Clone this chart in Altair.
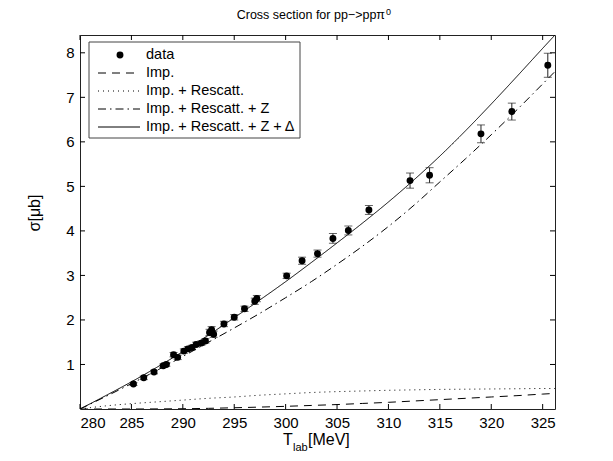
import altair as alt
import pandas as pd

# ---------------- data ----------------
T_DATA = [285.2, 286.2, 287.2, 288.1, 288.4, 289.1, 289.5, 290.1, 290.5, 290.9,
          291.3, 291.8, 292.2, 292.6, 292.8, 293.0, 294.0, 295.0, 296.0, 297.0,
          297.2, 300.1, 301.6, 303.1, 304.6, 306.1, 308.1, 312.1, 314.0, 319.0,
          322.0, 325.5]
SIGMA_DATA = [0.56, 0.70, 0.83, 0.97, 1.00, 1.22, 1.16, 1.30, 1.35, 1.38,
              1.45, 1.48, 1.53, 1.72, 1.78, 1.68, 1.91, 2.06, 2.25, 2.42,
              2.48, 2.99, 3.33, 3.49, 3.83, 4.01, 4.47, 5.13, 5.25, 6.18,
              6.68, 7.72]
SIGMA_ERR = [0.03, 0.04, 0.04, 0.04, 0.04, 0.05, 0.05, 0.05, 0.05, 0.05,
             0.05, 0.05, 0.05, 0.07, 0.07, 0.07, 0.06, 0.06, 0.06, 0.07,
             0.07, 0.06, 0.08, 0.08, 0.11, 0.10, 0.10, 0.17, 0.17, 0.20,
             0.19, 0.27]

T_CURVE = [280, 282.5, 285, 287.5, 290, 292.5, 295, 297.5, 300, 302.5,
           305, 307.5, 310, 312.5, 315, 317.5, 320, 322.5, 325, 326.2]
IMP = [0.0, 0.0, 0.0, 0.002, 0.006, 0.015, 0.028, 0.043, 0.06, 0.08,
       0.10, 0.125, 0.15, 0.18, 0.21, 0.24, 0.27, 0.30, 0.335, 0.35]
IMP_RESCATT = [0.0, 0.07, 0.12, 0.16, 0.20, 0.24, 0.27, 0.31, 0.34, 0.37,
               0.39, 0.405, 0.42, 0.43, 0.44, 0.445, 0.45, 0.455, 0.46, 0.46]
IMP_RESCATT_Z = [0.0, 0.28, 0.57, 0.87, 1.18, 1.50, 1.82, 2.15, 2.50, 2.86,
                 3.25, 3.66, 4.10, 4.58, 5.10, 5.62, 6.16, 6.72, 7.30, 7.58]
IMP_RESCATT_Z_DELTA = [0.0, 0.30, 0.61, 0.94, 1.29, 1.66, 2.05, 2.45, 2.86, 3.29,
                       3.73, 4.18, 4.65, 5.15, 5.68, 6.25, 6.85, 7.47, 8.10, 8.40]

SERIES_NAMES = ["Imp.", "Imp. + Rescatt.", "Imp. + Rescatt. + Z", "Imp. + Rescatt. + Z +\u2009Δ"]
LEGEND_LABELS = ["data"] + SERIES_NAMES

X_TICKS = [280, 285, 290, 295, 300, 305, 310, 315, 320, 325]
Y_TICKS = [1, 2, 3, 4, 5, 6, 7, 8]

X_DOMAIN = [280, 326.2]
Y_DOMAIN = [0, 8.4]

# ---------------- styles ----------------
W, H = 475, 374
FONT = "Liberation Sans"
DASH_LIST = [[8, 6], [1, 4], [8, 4, 1.5, 4], [1, 0]]
DASHES = dict(zip(SERIES_NAMES, DASH_LIST))

xs = alt.Scale(domain=X_DOMAIN, nice=False, zero=False)
ys = alt.Scale(domain=Y_DOMAIN, nice=False, zero=False)

pts = pd.DataFrame({"T": T_DATA, "s": SIGMA_DATA, "e": SIGMA_ERR})
pts["lo"] = pts["s"] - pts["e"]
pts["hi"] = pts["s"] + pts["e"]

curve_cols = [IMP, IMP_RESCATT, IMP_RESCATT_Z, IMP_RESCATT_Z_DELTA]

layers = []

# curves
for name, vals in zip(SERIES_NAMES, curve_cols):
    df = pd.DataFrame({"T": T_CURVE, "s": vals})
    layers.append(
        alt.Chart(df).mark_line(color="black", strokeWidth=1, strokeDash=DASHES[name],
                                interpolate="monotone", clip=True)
        .encode(x=alt.X("T:Q", scale=xs,
                        axis=alt.Axis(values=X_TICKS, title=None, format="d")),
                y=alt.Y("s:Q", scale=ys,
                        axis=alt.Axis(values=Y_TICKS, title=None, format="d")))
    )

# error bars
layers.append(
    alt.Chart(pts).mark_rule(color="#222", strokeWidth=1)
    .encode(x=alt.X("T:Q", scale=xs), y=alt.Y("lo:Q", scale=ys), y2="hi:Q")
)
for col in ["lo", "hi"]:
    layers.append(
        alt.Chart(pts).mark_tick(color="#222", orient="horizontal", size=8, thickness=1)
        .encode(x=alt.X("T:Q", scale=xs), y=alt.Y(f"{col}:Q", scale=ys))
    )
# points
layers.append(
    alt.Chart(pts).mark_point(filled=True, shape="circle", size=48, color="black", opacity=1)
    .encode(x=alt.X("T:Q", scale=xs), y=alt.Y("s:Q", scale=ys))
)

# inward ticks on all four sides
xt = pd.DataFrame({"v": X_TICKS})
yt = pd.DataFrame({"v": Y_TICKS})
layers.append(alt.Chart(xt).mark_rule(color="black").encode(
    x=alt.X("v:Q", scale=xs), y=alt.value(H), y2=alt.value(H - 5)))
layers.append(alt.Chart(xt).mark_rule(color="black").encode(
    x=alt.X("v:Q", scale=xs), y=alt.value(0), y2=alt.value(5)))
layers.append(alt.Chart(yt).mark_rule(color="black").encode(
    y=alt.Y("v:Q", scale=ys), x=alt.value(0), x2=alt.value(5)))
layers.append(alt.Chart(yt).mark_rule(color="black").encode(
    y=alt.Y("v:Q", scale=ys), x=alt.value(W), x2=alt.value(W - 5)))

one = pd.DataFrame({"a": [0]})

# legend box
layers.append(alt.Chart(one).mark_rect(fill="white", stroke="#444", strokeWidth=1).encode(
    x=alt.value(9), x2=alt.value(220), y=alt.value(7), y2=alt.value(103)))
row_y = [20, 38, 56, 74, 92]
layers.append(alt.Chart(one).mark_point(filled=True, shape="circle", size=48, color="black", opacity=1)
              .encode(x=alt.value(40), y=alt.value(row_y[0])))
for i, name in enumerate(SERIES_NAMES):
    layers.append(alt.Chart(one).mark_rule(color="black", strokeWidth=1, strokeDash=DASHES[name])
                  .encode(x=alt.value(18), x2=alt.value(60), y=alt.value(row_y[i + 1])))
for i, lab in enumerate(LEGEND_LABELS):
    layers.append(alt.Chart(pd.DataFrame({"t": [lab]})).mark_text(
        align="left", baseline="middle", font=FONT, fontSize=14.5, color="black")
        .encode(x=alt.value(66), y=alt.value(row_y[i]), text="t:N"))

# title with superscript
layers.append(alt.Chart(pd.DataFrame({"t": ["Cross section for pp−>ppπ"]})).mark_text(
    align="right", baseline="alphabetic", font=FONT, fontSize=12.5, color="black")
    .encode(x=alt.value(305), y=alt.value(-16), text="t:N"))
layers.append(alt.Chart(pd.DataFrame({"t": ["0"]})).mark_text(
    align="left", baseline="alphabetic", font=FONT, fontSize=9, color="black")
    .encode(x=alt.value(306), y=alt.value(-20), text="t:N"))

# x label with subscript
layers.append(alt.Chart(pd.DataFrame({"t": ["T"]})).mark_text(
    align="left", baseline="alphabetic", font=FONT, fontSize=16, color="black")
    .encode(x=alt.value(203), y=alt.value(410), text="t:N"))
layers.append(alt.Chart(pd.DataFrame({"t": ["lab"]})).mark_text(
    align="left", baseline="alphabetic", font=FONT, fontSize=11, color="black")
    .encode(x=alt.value(213), y=alt.value(416), text="t:N"))
layers.append(alt.Chart(pd.DataFrame({"t": ["[MeV]"]})).mark_text(
    align="left", baseline="alphabetic", font=FONT, fontSize=16, color="black")
    .encode(x=alt.value(228), y=alt.value(410), text="t:N"))

# y label
layers.append(alt.Chart(pd.DataFrame({"t": ["σ[μb]"]})).mark_text(
    align="center", baseline="middle", font=FONT, fontSize=16, color="black", angle=270)
    .encode(x=alt.value(-45), y=alt.value(178), text="t:N"))

chart = (
    alt.layer(*layers)
    .properties(width=W, height=H, autosize=alt.AutoSizeParams(type="none"),
                padding={"left": 72, "top": 27, "right": 50, "bottom": 44})
    .configure_view(stroke="#222", strokeWidth=1)
    .configure_axis(labelFont=FONT, labelFontSize=15, labelColor="black", ticks=False,
                    domain=False, grid=False, labelPadding=6)
)

chart.save("out.html", embed_options={"renderer": "svg", "actions": False})
